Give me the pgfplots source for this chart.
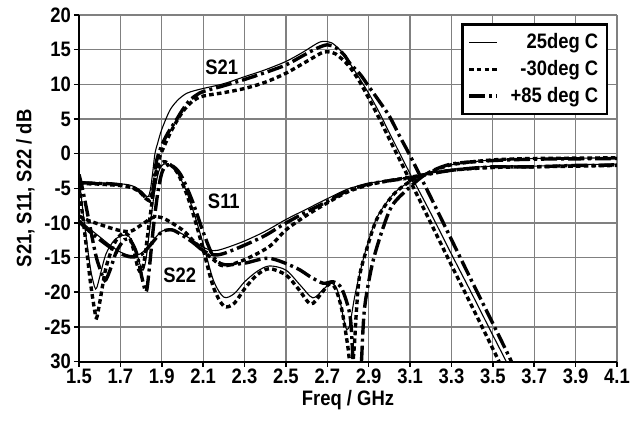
\documentclass[border=0pt]{standalone}
\usepackage{fontspec}
\setmainfont{Liberation Sans}[FakeStretch=0.88]
\usepackage{pgfplots}
\pgfplotsset{compat=1.18}
\pgfplotsset{
  tw/.style={black, line width=0.55bp, solid},
  tc/.style={black, line width=1.7bp, dash pattern=on 2.3bp off 1.6bp},
  th/.style={black, line width=1.7bp, dash pattern=on 8bp off 2bp on 1.5bp off 2bp},
}
\begin{document}
\begin{tikzpicture}[font=\fontsize{10.5}{12}\selectfont\bfseries]
\useasboundingbox (-39.5bp,-31.7bp) rectangle (282.5bp,180.8bp);
\begin{axis}[at={(0,0)}, anchor=south west, scale only axis,
  width=269bp, height=173.3bp,
  xmin=1.5, xmax=4.1, ymin=-30, ymax=20,
  xtick={1.5,1.7,1.9,2.1,2.3,2.5,2.7,2.9,3.1,3.3,3.5,3.7,3.9,4.1},
  xticklabels={1.5,1.7,1.9,2.1,2.3,2.5,2.7,2.9,3.1,3.3,3.5,3.7,3.9,4.1},
  ytick={-30,-25,-20,-15,-10,-5,0,5,10,15,20},
  yticklabels={30,-25,-20,-15,-10,-5,0,5,10,15,20},
  grid=major, grid style={black!50, line width=0.65bp},
  axis x line*=bottom, axis y line*=left,
  axis line style={black, line width=1bp},
  tick align=outside, major tick length=2.5bp,
  tick style={black, line width=0.8bp},
  xticklabel style={yshift=2.3bp},
  yticklabel style={xshift=2bp},
  xlabel={Freq / GHz}, ylabel={S21, S11, S22 / dB},
  xlabel style={yshift=3.8bp},
  ylabel style={yshift=-2bp},
  legend style={at={(0.984,0.976)}, anchor=north east, draw=black,
    line width=1.2bp, fill=white, row sep=0.3bp, inner sep=2.5bp,
    font=\fontsize{10.5}{12}\selectfont\bfseries,
    /tikz/every odd column/.append style={column sep=4bp}},
  legend cell align=right,
  legend image code/.code={\draw[#1] (0bp,0bp) -- (14bp,0bp);},
]
\addlegendimage{tw}\addlegendentry{25deg C}
\addlegendimage{tc}\addlegendentry{-30deg C}
\addlegendimage{th}\addlegendentry{+85 deg C}

% ---------- S21 ----------
\addplot[th, smooth, forget plot] coordinates {
(1.5,-4.2)(1.55,-4.25)(1.6,-4.3)(1.65,-4.35)(1.7,-4.5)(1.74,-4.7)(1.77,-5.0)(1.8,-5.6)(1.82,-6.3)(1.84,-6.8)(1.855,-6.0)(1.865,-3.5)(1.875,-1.0)(1.9,1.2)(1.93,3.0)(1.97,4.85)(2.0,6.3)(2.035,7.7)(2.07,8.5)(2.1,8.95)(2.2,9.8)(2.3,10.7)(2.4,11.7)(2.5,12.8)(2.58,14.1)(2.65,15.2)(2.7,15.7)(2.74,15.3)(2.78,14.3)(2.81,13.0)(2.86,11.4)(2.9,9.7)(2.95,7.6)(3.0,5.4)(3.05,2.5)(3.1,-0.3)(3.2,-6.3)(3.3,-12.4)(3.4,-18.5)(3.5,-24.5)(3.59,-30)(3.6,-31)};
\addplot[tc, smooth, forget plot] coordinates {
(1.5,-4.3)(1.55,-4.35)(1.6,-4.4)(1.65,-4.5)(1.7,-4.6)(1.74,-4.8)(1.77,-5.1)(1.8,-5.7)(1.82,-6.4)(1.84,-6.7)(1.855,-5.5)(1.87,-3)(1.885,-1)(1.9,0.3)(1.95,3.5)(2.0,6.0)(2.05,7.6)(2.1,8.3)(2.2,8.8)(2.3,9.4)(2.4,10.3)(2.5,11.6)(2.6,13.3)(2.67,14.5)(2.7,14.7)(2.74,14.4)(2.8,12.8)(2.85,10.7)(2.9,8.0)(2.955,4.85)(3.0,2.1)(3.1,-3.9)(3.2,-10)(3.3,-16.1)(3.4,-22.1)(3.53,-30)(3.54,-31)};
\addplot[tw, smooth, forget plot] coordinates {
(1.5,-4.0)(1.55,-4.1)(1.6,-4.2)(1.65,-4.25)(1.7,-4.35)(1.74,-4.5)(1.77,-4.8)(1.8,-5.4)(1.82,-6.0)(1.835,-6.2)(1.845,-5.2)(1.855,-3)(1.867,0)(1.88,1.5)(1.9,3.5)(1.94,6.3)(1.98,7.8)(2.02,8.7)(2.06,9.1)(2.1,9.4)(2.2,10.1)(2.3,11.1)(2.4,12.1)(2.5,13.3)(2.58,14.6)(2.65,15.9)(2.68,16.2)(2.72,16.0)(2.76,15.0)(2.8,13.4)(2.84,11.6)(2.9,8.7)(2.95,6)(3.0,3.0)(3.1,-2.9)(3.2,-8.6)(3.3,-14.5)(3.4,-20.3)(3.5,-26.2)(3.565,-30)(3.58,-31)};

% ---------- S11 ----------
\addplot[th, smooth, forget plot] coordinates {
(1.5,-3)(1.52,-5.5)(1.55,-10)(1.58,-14.5)(1.6,-16.5)(1.625,-18.3)(1.65,-16.8)(1.68,-14.2)(1.72,-12.4)(1.75,-12.6)(1.78,-14.5)(1.805,-18)(1.825,-19.9)(1.84,-16.5)(1.86,-10.5)(1.88,-5.8)(1.9,-2.8)(1.92,-1.8)(1.94,-1.6)(1.97,-2.2)(2.0,-3.5)(2.05,-7)(2.1,-11.3)(2.15,-14.9)(2.2,-16)(2.3,-15.8)(2.42,-15.1)(2.55,-16.5)(2.62,-17.8)(2.68,-18.7)(2.73,-18.5)(2.77,-19.5)(2.81,-23.4)(2.825,-30)(2.84,-34)(2.855,-34)(2.865,-30)(2.88,-22.3)(2.92,-15.6)(2.98,-9.8)(3.02,-7.2)(3.1,-4.8)(3.18,-2.9)(3.3,-1.5)(3.5,-1.0)(3.7,-0.8)(3.9,-0.75)(4.1,-0.7)};
\addplot[tc, smooth, forget plot] coordinates {
(1.5,-3.5)(1.51,-7)(1.53,-12)(1.555,-18.5)(1.575,-22.5)(1.585,-23.7)(1.6,-21.5)(1.63,-16.5)(1.67,-13)(1.71,-11.5)(1.74,-11.8)(1.765,-14)(1.785,-16.5)(1.8,-17)(1.815,-15.5)(1.835,-11)(1.86,-5.5)(1.88,-2.3)(1.9,-1.3)(1.92,-1.2)(1.95,-1.8)(1.98,-3)(2.02,-5.8)(2.06,-9.5)(2.1,-13.8)(2.15,-19.3)(2.2,-22)(2.25,-21.6)(2.3,-19.5)(2.36,-17.5)(2.42,-16.6)(2.5,-17.5)(2.56,-19.5)(2.62,-21.7)(2.67,-20.2)(2.71,-18.8)(2.74,-19.5)(2.77,-22.5)(2.8,-28)(2.815,-32)(2.83,-28)(2.84,-23)(2.855,-17.8)(2.89,-13.8)(2.94,-9.4)(3.02,-5.9)(3.1,-4.0)(3.18,-2.9)(3.3,-1.6)(3.5,-0.9)(3.7,-0.7)(3.9,-0.65)(4.1,-0.6)};
\addplot[tw, smooth, forget plot] coordinates {
(1.5,-3)(1.51,-6)(1.53,-11)(1.555,-16.5)(1.575,-19.2)(1.585,-19.4)(1.6,-17.8)(1.63,-14.5)(1.67,-12.5)(1.71,-11.8)(1.74,-11.9)(1.77,-13.5)(1.795,-16)(1.81,-16.8)(1.825,-15)(1.845,-10)(1.865,-5.5)(1.885,-2.6)(1.905,-1.6)(1.925,-1.5)(1.95,-2)(1.98,-3)(2.02,-5.5)(2.06,-9)(2.1,-13)(2.15,-18.3)(2.2,-20.7)(2.25,-20.2)(2.3,-18.5)(2.36,-17)(2.42,-16.2)(2.5,-16.8)(2.57,-19)(2.63,-20.8)(2.68,-19.6)(2.72,-18.7)(2.75,-19.8)(2.78,-24)(2.795,-25.4)(2.81,-24.5)(2.83,-21)(2.855,-17.5)(2.89,-13.5)(2.94,-9.2)(3.02,-5.8)(3.1,-4.0)(3.18,-2.9)(3.3,-1.6)(3.5,-0.9)(3.7,-0.7)(3.9,-0.65)(4.1,-0.6)};

% ---------- S22 ----------
\addplot[th, smooth, forget plot] coordinates {
(1.5,-9.8)(1.55,-11.2)(1.6,-12.4)(1.65,-13.5)(1.7,-14.4)(1.75,-14.9)(1.8,-14.6)(1.85,-13)(1.9,-11.3)(1.95,-11)(2.0,-11.8)(2.05,-12.8)(2.1,-14)(2.15,-14.6)(2.2,-14.4)(2.3,-13.2)(2.4,-11.8)(2.5,-10)(2.6,-8.4)(2.7,-6.9)(2.8,-5.3)(2.9,-4.4)(3.0,-3.9)(3.1,-3.5)(3.2,-2.9)(3.3,-2.4)(3.4,-2.1)(3.5,-1.9)(3.6,-1.9)(3.7,-1.9)(3.8,-1.8)(3.9,-1.7)(4.0,-1.7)(4.1,-1.6)};
\addplot[tc, smooth, forget plot] coordinates {
(1.5,-9)(1.55,-9.7)(1.6,-10.2)(1.65,-10.7)(1.7,-11.1)(1.75,-11.2)(1.8,-10.3)(1.85,-9.3)(1.88,-9.1)(1.92,-9.5)(2.0,-11)(2.05,-12.5)(2.1,-14)(2.15,-15.3)(2.2,-16.2)(2.3,-15.3)(2.42,-13.4)(2.5,-11)(2.6,-8.9)(2.7,-7.1)(2.8,-5.5)(2.9,-4.5)(3.0,-3.9)(3.1,-3.4)(3.3,-2.4)(3.5,-2.0)(3.7,-1.9)(3.9,-1.8)(4.1,-1.7)};
\addplot[tw, smooth, forget plot] coordinates {
(1.5,-9.5)(1.55,-10.8)(1.6,-12)(1.65,-13.2)(1.7,-14.2)(1.75,-14.7)(1.8,-14.4)(1.85,-12.8)(1.9,-11.2)(1.95,-11)(2.0,-11.6)(2.05,-12.5)(2.1,-13.5)(2.15,-14)(2.2,-13.7)(2.3,-12.6)(2.4,-11.2)(2.5,-9.5)(2.6,-8)(2.7,-6.5)(2.8,-5.1)(2.9,-4.3)(3.0,-3.8)(3.1,-3.4)(3.3,-2.3)(3.5,-1.8)(3.7,-1.8)(3.9,-1.6)(4.1,-1.5)};

\node at (axis cs:2.19,12.5) {S21};
\node at (axis cs:2.2,-6.9) {S11};
\node at (axis cs:1.987,-17.6) {S22};
\end{axis}
\end{tikzpicture}
\end{document}
